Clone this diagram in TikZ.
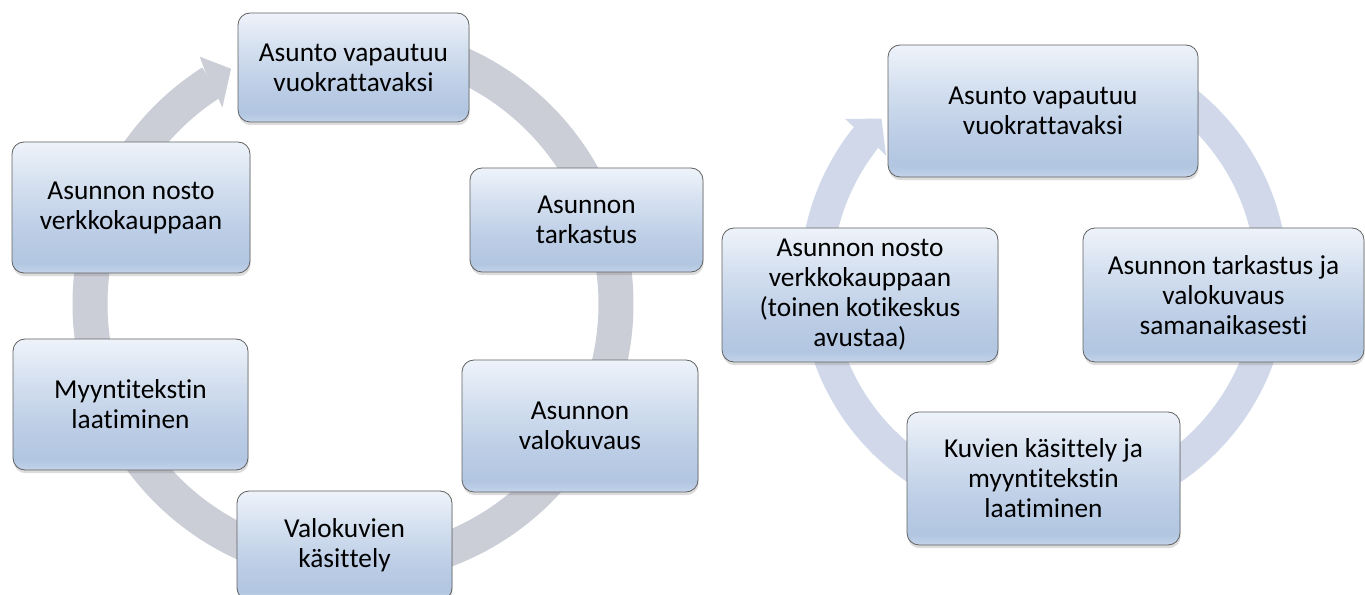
\documentclass[tikz,border=0pt]{standalone}
\usepackage{fontspec}
\setmainfont{Carlito}[Ligatures=NoCommon]
\usetikzlibrary{shadows}
\newcommand{\brk}{\kern0pt\relax}
\definecolor{bandL}{HTML}{CBCDD7}
\definecolor{bandR}{HTML}{D0D8E9}
\definecolor{bxA}{HTML}{C3D3EA}
\definecolor{bxB}{HTML}{B2C6E1}
\definecolor{bxC}{HTML}{BDCEE6}
\definecolor{bxD}{HTML}{D3DFEF}
\definecolor{bxE}{HTML}{EEF3FA}
\pgfdeclareverticalshading{boxshade}{100bp}{color(0bp)=(bxA); color(25bp)=(bxA); color(29bp)=(bxB); color(42bp)=(bxC); color(58bp)=(bxD); color(75bp)=(bxE); color(100bp)=(bxE)}
\tikzset{
  box/.style={rounded corners=9pt, draw=black!62, line width=0.6pt,
    shade, shading=boxshade, align=center, inner sep=0pt,
    font=\fontsize{20.5}{22.5}\selectfont,
    drop shadow={shadow xshift=0.5pt, shadow yshift=-2.4pt, opacity=0.28}},
  bandl/.style={draw=bandL, line width=35*0.75pt},
  bandr/.style={draw=bandR, line width=32*0.75pt},
}
\begin{document}
\begin{tikzpicture}[x=0.75pt,y=-0.75pt]
\path[use as bounding box] (0,0) rectangle (1365,595);
\clip (0,0) rectangle (1365,595);
% ---------- left cycle ----------
\coordinate (cL) at (353,304);
\draw[bandl] plot[domain=-75:237.5, samples=220, smooth] ({353+263*cos(\x)},{304+263*sin(\x)});
\fill[bandL] (cL) +(238.2:291) -- +(242.6:265) -- +(236.4:236) -- +(236.9:250) -- +(237.6:276) -- cycle;
% ---------- right cycle ----------
\coordinate (cR) at (1044,280);
\draw[bandr] plot[domain=-60:219, samples=220, smooth] ({1044+228*cos(\x)},{280+228*sin(\x)});
\fill[bandR] (cR) +(219:256) -- +(224.8:229) -- +(218.2:201) -- +(218.6:214) -- +(218.8:244) -- cycle;
% ---------- left boxes ----------
\node[box, minimum width=231*0.75pt, minimum height=109*0.75pt] (b1) at (353.5,67.5) {Asunto vapautuu\\vuokrat\brk tavaksi};
\node[box, minimum width=233*0.75pt, minimum height=104*0.75pt] (b2) at (586.5,220) {Asunnon\\tarkastus};
\node[box, minimum width=236*0.75pt, minimum height=132*0.75pt] (b3) at (580,426) {Asunnon\\valokuvaus};
\node[box, minimum width=215*0.75pt, minimum height=109*0.75pt] (b4) at (344.5,545.5) {Valokuvien\\käsit\brk tely};
\node[box, minimum width=235*0.75pt, minimum height=131*0.75pt] (b5) at (130.5,404.5) {Myynt\brk itekst\brk in\\laat\brk iminen};
\node[box, minimum width=238*0.75pt, minimum height=131*0.75pt] (b6) at (131,207.5) {Asunnon nosto\\verkkokauppaan};
% ---------- right boxes ----------
\node[box, minimum width=310*0.75pt, minimum height=132*0.75pt] (r1) at (1043,111) {Asunto vapautuu\\vuokrat\brk tavaksi};
\node[box, minimum width=281*0.75pt, minimum height=134*0.75pt] (r2) at (1223.5,295) {Asunnon tarkastus ja\\valokuvaus\\samanaikasest\brk i};
\node[box, minimum width=273*0.75pt, minimum height=133*0.75pt] (r3) at (1043.5,478.5) {Kuvien käsit\brk tely ja\\myynt\brk itekst\brk in\\laat\brk iminen};
\node[box, minimum width=276*0.75pt, minimum height=134*0.75pt] (r4) at (860,295) {Asunnon nosto\\verkkokauppaan\\(toinen kot\brk ikeskus\\avustaa)};
\end{tikzpicture}
\end{document}
